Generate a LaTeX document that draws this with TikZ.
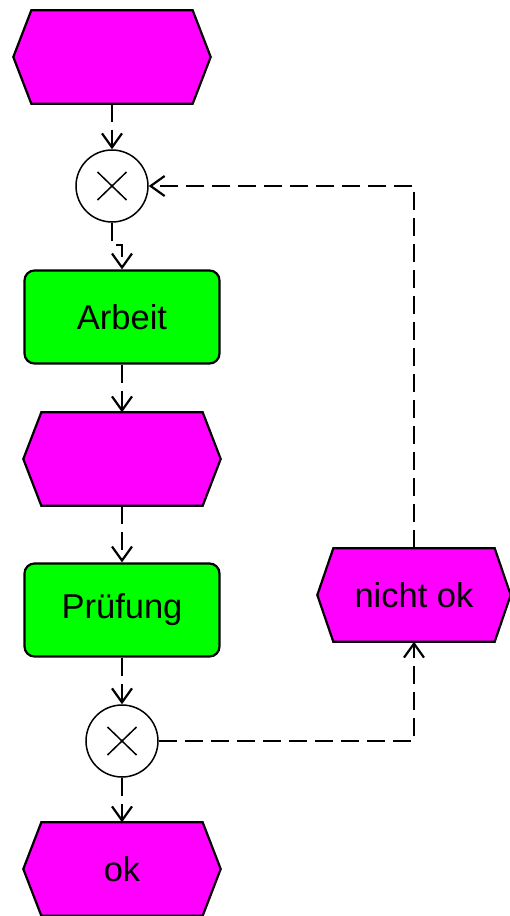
\documentclass[tikz,border=0pt]{standalone}
\usepackage{fontspec}
\setmainfont{Liberation Sans}
\usetikzlibrary{arrows.meta,backgrounds}
\definecolor{evmag}{RGB}{255,0,255}
\definecolor{fngreen}{RGB}{0,255,0}
\begin{document}
\begin{tikzpicture}[x=1pt,y=-1pt,
  lbl/.style={font=\fontsize{34.5}{40}\selectfont},
  evbox/.style={lbl, minimum width=161pt, minimum height=93pt, inner sep=0pt},
  evshape/.style={draw=black, line width=2.2pt, fill=evmag, line join=miter},
  fnbox/.style={lbl, draw=black, line width=2.2pt, fill=fngreen, rounded corners=10pt,
    minimum width=195pt, minimum height=93pt, inner sep=0pt},
  xorc/.style={circle, draw=black, line width=1.5pt, fill=white, minimum size=72pt, inner sep=0pt},
  xmark/.style={line width=1.5pt},
  flow/.style={line width=2.2pt, dash pattern=on 18pt off 8pt,
    -{Straight Barb[length=14pt,width=20pt]}}
]
\useasboundingbox (0,0) rectangle (509,916);

% events and functions
\node[evbox] (e1) at (112,57) {};
\node[xorc] (x1) at (112,186) {};
\node[fnbox] (arb) at (122,317) {Arbeit};
\node[evbox] (e2) at (122,459) {};
\node[fnbox] (pr) at (122,610) {Prüfung};
\node[xorc] (x2) at (122,741) {};
\node[evbox] (ok) at (122,869) {ok};
\node[evbox] (nok) at (414,595) {nicht ok};

% hexagonal event outlines behind the labels
\begin{scope}[on background layer]
  \foreach \n/\p in {e1/18,e2/18,ok/18,nok/16}
    \draw[evshape] (\n.north west) -- (\n.north east) -- ([xshift=\p pt]\n.east)
      -- (\n.south east) -- (\n.south west) -- ([xshift=-\p pt]\n.west) -- cycle;
\end{scope}

% XOR crosses
\foreach \c in {x1,x2}
  \draw[xmark] ([shift={(-14.5pt,-14pt)}]\c.center) -- ([shift={(14.5pt,14pt)}]\c.center)
               ([shift={(-14.5pt,14pt)}]\c.center) -- ([shift={(14.5pt,-14pt)}]\c.center);

% control flow
\draw[flow] (e1.south) -- (x1.north);
\draw[flow] (x1.south) -- ++(0,22) -| (arb.north);
\draw[flow] (arb.south) -- (e2.north);
\draw[flow] (e2.south) -- (pr.north);
\draw[flow] (pr.south) -- (x2.north);
\draw[flow] (x2.south) -- (ok.north);
\draw[flow] (x2.east) -| (nok.south);
\draw[flow] (nok.north) |- (x1.east);
\end{tikzpicture}
\end{document}
